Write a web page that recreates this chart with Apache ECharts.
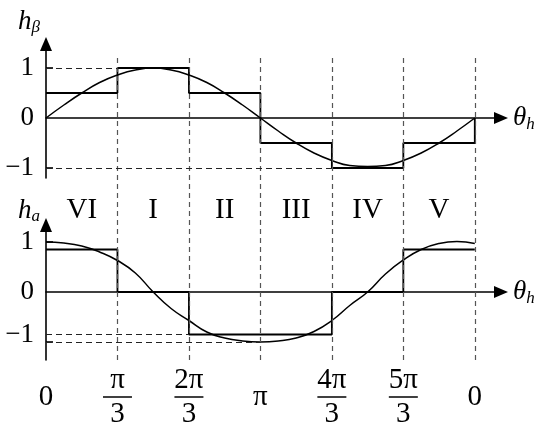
<!DOCTYPE html>
<html>
<head>
<meta charset="utf-8">
<script src="https://cdn.jsdelivr.net/npm/echarts@6/dist/echarts.min.js"></script>
<style>
  html, body { margin: 0; padding: 0; background: #fff; }
  #chart { width: 550px; height: 432px; }
</style>
</head>
<body>
<div id="chart"></div>
<script>
// sector edges in degrees, 0 .. 2π
const sectorEdges = [0, 60, 120, 180, 240, 300, 360];
const angleLabels = ['0', 'π/3', '2π/3', 'π', '4π/3', '5π/3', '0'];
const sectorCenters = [30, 90, 150, 210, 270, 330];
const sectorNames = ['VI', 'I', 'II', 'III', 'IV', 'V'];

// step level in each sector
const betaSteps = [0.5, 1, 0.5, -0.5, -1, -0.5];
const alphaSteps = [0.85, 0, -0.85, -0.85, 0, 0.85];

const curveAngles = [0, 15, 30, 45, 60, 75, 90, 105, 120, 135, 150, 165, 180,
  195, 210, 225, 240, 255, 270, 285, 300, 315, 330, 345, 360];
const betaCurve = [0, 0.26, 0.5, 0.71, 0.86, 0.96, 1.0, 0.96, 0.86, 0.71, 0.5, 0.26, 0,
  -0.26, -0.5, -0.7, -0.85, -0.95, -0.97, -0.95, -0.85, -0.7, -0.5, -0.26, 0];
const alphaCurve = [1.0, 0.98, 0.92, 0.8, 0.63, 0.38, 0, -0.33, -0.57, -0.8, -0.92, -0.98, -1.0,
  -0.98, -0.92, -0.79, -0.57, -0.27, 0, 0.36, 0.64, 0.85, 0.97, 1.01, 0.97];

// dashed guide lines: [level, end angle]
const betaGuides = [[1, 60], [-1, 240]];
const alphaGuides = [[-0.85, 120], [-1, 180]];

// y tick labels
const betaLabelValues = [-1, 0, 1];
const alphaLabelValues = [-0.85, 0, 1];

const serif = "'Liberation Serif', 'DejaVu Serif', serif";
const black = '#000';

const chart = echarts.init(document.getElementById('chart'));

const axisLineStyle = { color: black, width: 1.6 };
const levelText = v => (v === 0 ? '0' : v > 0 ? '1' : '−1');

const stepData = (levels, closeToZero) => {
  const pts = levels.map((v, i) => [sectorEdges[i], v]);
  pts.push([sectorEdges[sectorEdges.length - 1], levels[levels.length - 1]]);
  if (closeToZero) pts.push([sectorEdges[sectorEdges.length - 1], 0]);
  return pts;
};

const guideLines = guides => ({
  silent: true,
  symbol: 'none',
  label: { show: false },
  lineStyle: { type: [6, 4], color: '#222', width: 1.2 },
  data: guides.map(([lv, to]) => [{ coord: [0, lv] }, { coord: [to, lv] }])
});

const valueYAxis = (gridIndex, min, max, labelValues, name, rich, nameGap) => ({
  gridIndex: gridIndex,
  type: 'value',
  min: min,
  max: max,
  axisLine: {
    show: true,
    onZero: false,
    symbol: ['none', 'triangle'],
    symbolSize: [12, 14],
    lineStyle: axisLineStyle
  },
  axisTick: {
    show: true,
    inside: true,
    length: 7,
    customValues: [-1, 1],
    lineStyle: axisLineStyle
  },
  axisLabel: {
    customValues: labelValues,
    formatter: levelText,
    color: black,
    fontFamily: serif,
    fontSize: 27,
    margin: 12
  },
  splitLine: { show: false },
  name: name,
  nameLocation: 'end',
  nameGap: nameGap,
  nameTextStyle: { align: 'right', padding: [0, 6, 0, 0], rich: rich }
});

const thetaAxis = gridIndex => ({
  gridIndex: gridIndex,
  type: 'value',
  min: 0,
  max: 382,
  axisLine: {
    onZero: true,
    symbol: ['none', 'triangle'],
    symbolSize: [12, 14],
    lineStyle: axisLineStyle
  },
  axisTick: { show: false },
  axisLabel: { show: false },
  splitLine: { show: false },
  name: '{t|θ}{s|h}',
  nameLocation: 'end',
  nameGap: 12,
  nameTextStyle: {
    rich: {
      t: { fontFamily: serif, fontStyle: 'italic', fontSize: 27, color: black },
      s: { fontFamily: serif, fontStyle: 'italic', fontSize: 17, color: black, padding: [14, 0, 0, 0] }
    }
  }
});

const nameRich = () => ({
  h: { fontFamily: serif, fontStyle: 'italic', fontSize: 27, color: black },
  s: { fontFamily: serif, fontStyle: 'italic', fontSize: 17, color: black, padding: [12, 0, 0, 0] }
});

const option = {
  animation: false,
  backgroundColor: '#fff',
  grid: [
    { left: 46, right: 49, top: 44, height: 134, outerBoundsMode: 'none' },
    { left: 46, right: 49, top: 225, height: 135, outerBoundsMode: 'none' },
    { left: 46, right: 49, top: 55, height: 305, outerBoundsMode: 'none' }
  ],
  xAxis: [
    thetaAxis(0),
    thetaAxis(1),
    {
      gridIndex: 2,
      type: 'value',
      min: 0,
      max: 382,
      position: 'bottom',
      axisLine: { show: false, onZero: false },
      axisTick: { show: false },
      splitLine: { show: false },
      axisLabel: {
        customValues: sectorEdges,
        margin: 6,
        formatter: v => {
          const s = angleLabels[sectorEdges.indexOf(v)];
          if (s.indexOf('/') < 0) return '{s|' + s + '}';
          const parts = s.split('/');
          return '{n|' + parts[0] + '}\n{l| }\n{d|' + parts[1] + '}';
        },
        rich: {
          n: { fontFamily: serif, fontSize: 29, lineHeight: 28, color: black, align: 'center' },
          l: { width: 29, height: 1.5, lineHeight: 6, backgroundColor: black, align: 'center' },
          d: { fontFamily: serif, fontSize: 29, lineHeight: 28, color: black, align: 'center' },
          s: { fontFamily: serif, fontSize: 29, lineHeight: 62, color: black, align: 'center' }
        }
      }
    },
    {
      gridIndex: 1,
      type: 'value',
      min: 0,
      max: 382,
      position: 'top',
      axisLine: { show: false, onZero: false },
      axisTick: { show: false },
      splitLine: { show: false },
      axisLabel: {
        customValues: sectorCenters,
        margin: 0,
        formatter: v => sectorNames[sectorCenters.indexOf(v)],
        color: black,
        fontFamily: serif,
        fontSize: 29
      }
    }
  ],
  yAxis: [
    valueYAxis(0, -1.2, 1.48, betaLabelValues, '{h|h}{s|β}', nameRich(), 8),
    valueYAxis(1, -1.36, 1.34, alphaLabelValues, '{h|h}{s|a}', nameRich(), 0),
    { gridIndex: 2, type: 'value', min: 0, max: 1, show: false }
  ],
  series: [
    {
      type: 'line',
      xAxisIndex: 2,
      yAxisIndex: 2,
      data: [[0, 0]],
      symbol: 'none',
      lineStyle: { width: 0 },
      z: 1,
      markLine: {
        silent: true,
        symbol: 'none',
        label: { show: false },
        lineStyle: { type: [5, 4], color: '#555', width: 1.2 },
        data: sectorEdges.slice(1).map(x => ({ xAxis: x }))
      }
    },
    {
      type: 'line',
      xAxisIndex: 0,
      yAxisIndex: 0,
      step: 'end',
      data: stepData(betaSteps, true),
      symbol: 'none',
      lineStyle: { color: black, width: 1.8 },
      z: 3,
      markLine: guideLines(betaGuides)
    },
    {
      type: 'line',
      xAxisIndex: 0,
      yAxisIndex: 0,
      smooth: true,
      data: curveAngles.map((a, i) => [a, betaCurve[i]]),
      symbol: 'none',
      lineStyle: { color: black, width: 1.5 },
      z: 4
    },
    {
      type: 'line',
      xAxisIndex: 1,
      yAxisIndex: 1,
      step: 'end',
      data: stepData(alphaSteps, false),
      symbol: 'none',
      lineStyle: { color: black, width: 1.8 },
      z: 3,
      markLine: guideLines(alphaGuides)
    },
    {
      type: 'line',
      xAxisIndex: 1,
      yAxisIndex: 1,
      smooth: true,
      data: curveAngles.map((a, i) => [a, alphaCurve[i]]),
      symbol: 'none',
      lineStyle: { color: black, width: 1.5 },
      z: 4
    }
  ]
};

chart.setOption(option);
</script>
</body>
</html>
